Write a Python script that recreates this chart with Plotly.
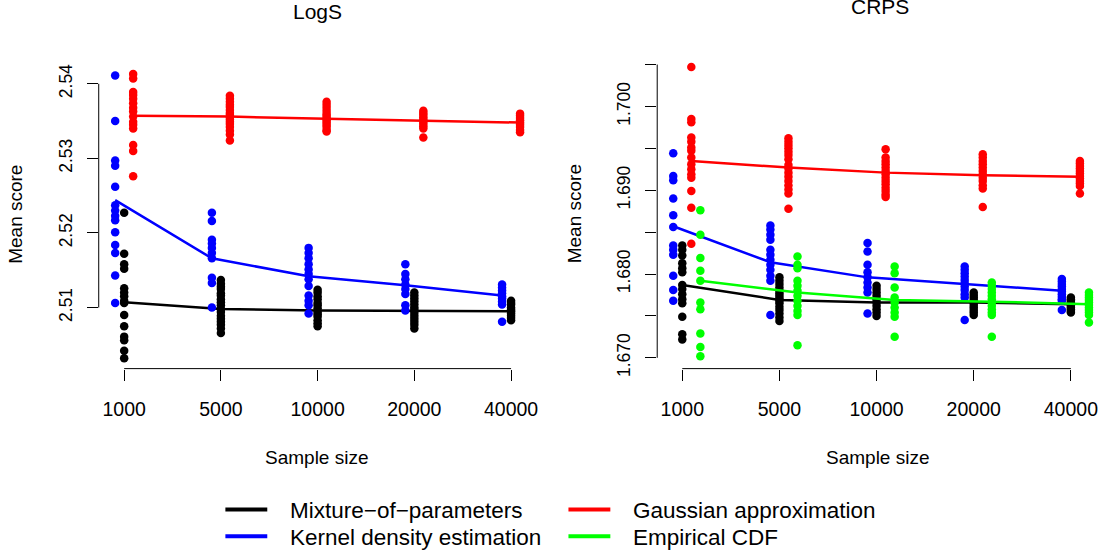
import plotly.graph_objects as go

W, H = 1105, 556
FONT = "Liberation Sans, Arial, Helvetica, sans-serif"

sample_sizes = ["1000", "5000", "10000", "20000", "40000"]

# ---- LogS: replicate mean scores per sample size ----
logs_mix = [
    [2.5227, 2.5172, 2.5158, 2.5152, 2.5126, 2.5120, 2.5115, 2.5109, 2.5106, 2.5090, 2.5075, 2.5061, 2.5056, 2.5042, 2.5032],
    [2.5137, 2.5132, 2.5128, 2.5125, 2.5119, 2.5116, 2.5111, 2.5107, 2.5103, 2.5098, 2.5094, 2.5089, 2.5085, 2.5081, 2.5077, 2.5072, 2.5066],
    [2.5124, 2.5120, 2.5115, 2.5111, 2.5106, 2.5103, 2.5099, 2.5094, 2.5091, 2.5088, 2.5083, 2.5079, 2.5075],
    [2.5120, 2.5116, 2.5112, 2.5108, 2.5104, 2.5100, 2.5097, 2.5093, 2.5089, 2.5085, 2.5081, 2.5077, 2.5072],
    [2.5109, 2.5106, 2.5104, 2.5100, 2.5097, 2.5095, 2.5092, 2.5089, 2.5086, 2.5083],
]
logs_kde = [
    [2.5411, 2.5350, 2.5297, 2.5290, 2.5262, 2.5237, 2.5230, 2.5223, 2.5217, 2.5201, 2.5184, 2.5173, 2.5143, 2.5106],
    [2.5227, 2.5216, 2.5191, 2.5186, 2.5180, 2.5173, 2.5166, 2.5140, 2.5133, 2.5100],
    [2.5180, 2.5173, 2.5166, 2.5158, 2.5151, 2.5145, 2.5138, 2.5129, 2.5116, 2.5109, 2.5103, 2.5092],
    [2.5158, 2.5145, 2.5138, 2.5131, 2.5125, 2.5118, 2.5103, 2.5096],
    [2.5131, 2.5127, 2.5123, 2.5119, 2.5115, 2.5112, 2.5108, 2.5104, 2.5081],
]
logs_gauss = [
    [2.5413, 2.5407, 2.5389, 2.5385, 2.5380, 2.5374, 2.5368, 2.5363, 2.5356, 2.5349, 2.5345, 2.5340, 2.5318, 2.5310, 2.5276],
    [2.5384, 2.5380, 2.5376, 2.5372, 2.5369, 2.5365, 2.5361, 2.5358, 2.5355, 2.5352, 2.5349, 2.5346, 2.5342, 2.5337, 2.5332, 2.5324],
    [2.5376, 2.5372, 2.5368, 2.5364, 2.5360, 2.5357, 2.5354, 2.5351, 2.5348, 2.5345, 2.5342, 2.5338, 2.5336],
    [2.5364, 2.5361, 2.5358, 2.5355, 2.5352, 2.5349, 2.5346, 2.5343, 2.5340, 2.5328],
    [2.5360, 2.5357, 2.5354, 2.5351, 2.5348, 2.5345, 2.5342, 2.5338, 2.5335],
]
logs_mix_avg = [2.5107, 2.5098, 2.5096, 2.5096, 2.5095]
logs_kde_avg = [2.5244, 2.5166, 2.5142, 2.5130, 2.5116]
logs_gauss_avg = [2.5357, 2.5356, 2.5353, 2.5350, 2.5348]

# ---- CRPS: replicate mean scores per sample size ----
crps_mix = [
    [1.6834, 1.6829, 1.6822, 1.6813, 1.6807, 1.6802, 1.6787, 1.6782, 1.6776, 1.6770, 1.6765, 1.6749, 1.6728, 1.6722],
    [1.6796, 1.6792, 1.6788, 1.6784, 1.6780, 1.6777, 1.6774, 1.6771, 1.6768, 1.6765, 1.6761, 1.6757, 1.6753, 1.6748, 1.6744],
    [1.6786, 1.6782, 1.6778, 1.6774, 1.6770, 1.6766, 1.6762, 1.6758, 1.6754, 1.6750],
    [1.6778, 1.6775, 1.6772, 1.6769, 1.6766, 1.6763, 1.6760, 1.6757, 1.6754, 1.6751],
    [1.6772, 1.6770, 1.6768, 1.6766, 1.6764, 1.6762, 1.6760, 1.6758, 1.6756, 1.6754],
]
crps_kde = [
    [1.6944, 1.6917, 1.6912, 1.6890, 1.6870, 1.6856, 1.6834, 1.6829, 1.6823, 1.6798, 1.6781, 1.6768],
    [1.6858, 1.6853, 1.6847, 1.6841, 1.6829, 1.6823, 1.6817, 1.6811, 1.6805, 1.6798, 1.6792, 1.6751],
    [1.6837, 1.6827, 1.6811, 1.6802, 1.6796, 1.6790, 1.6784, 1.6778, 1.6753],
    [1.6809, 1.6805, 1.6801, 1.6797, 1.6793, 1.6789, 1.6785, 1.6781, 1.6776, 1.6772, 1.6745],
    [1.6794, 1.6791, 1.6788, 1.6785, 1.6782, 1.6779, 1.6776, 1.6773, 1.6770, 1.6768, 1.6757],
]
crps_gauss = [
    [1.7047, 1.6985, 1.6981, 1.6963, 1.6958, 1.6951, 1.6947, 1.6939, 1.6931, 1.6925, 1.6919, 1.6915, 1.6899, 1.6879, 1.6836],
    [1.6962, 1.6958, 1.6954, 1.6950, 1.6946, 1.6942, 1.6937, 1.6930, 1.6926, 1.6921, 1.6916, 1.6911, 1.6906, 1.6901, 1.6896, 1.6878],
    [1.6949, 1.6939, 1.6935, 1.6931, 1.6927, 1.6923, 1.6919, 1.6915, 1.6911, 1.6907, 1.6903, 1.6899, 1.6895, 1.6892],
    [1.6943, 1.6939, 1.6935, 1.6931, 1.6927, 1.6923, 1.6919, 1.6915, 1.6911, 1.6906, 1.6902, 1.6880],
    [1.6935, 1.6932, 1.6929, 1.6926, 1.6923, 1.6920, 1.6917, 1.6914, 1.6911, 1.6908, 1.6905, 1.6896],
]
crps_ecdf = [
    [1.6876, 1.6847, 1.6819, 1.6804, 1.6792, 1.6766, 1.6758, 1.6729, 1.6713, 1.6702],
    [1.6821, 1.6811, 1.6807, 1.6792, 1.6786, 1.6780, 1.6774, 1.6768, 1.6762, 1.6756, 1.6751, 1.6715],
    [1.6809, 1.6801, 1.6784, 1.6772, 1.6766, 1.6760, 1.6754, 1.6749, 1.6725],
    [1.6790, 1.6786, 1.6782, 1.6778, 1.6774, 1.6770, 1.6766, 1.6762, 1.6758, 1.6754, 1.6751, 1.6725],
    [1.6778, 1.6775, 1.6772, 1.6769, 1.6766, 1.6763, 1.6760, 1.6757, 1.6754, 1.6751, 1.6742],
]
crps_mix_avg = [1.6787, 1.6769, 1.6766, 1.6766, 1.6764]
crps_kde_avg = [1.6857, 1.6814, 1.6796, 1.6788, 1.6780]
crps_gauss_avg = [1.6935, 1.6927, 1.6921, 1.6918, 1.6916]
crps_ecdf_avg = [1.6792, 1.6778, 1.6769, 1.6767, 1.6764]

legend_labels = ["Mixture\u2212of\u2212parameters", "Kernel density estimation",
                 "Gaussian approximation", "Empirical CDF"]
colors = ["#000000", "#0000FF", "#FF0000", "#00FF00"]
# horizontal dodge of each method around the sample-size position
dodge = [0.0, -0.093, 0.093, 0.186]


def px(x):
    return x / W


def py(y):
    return 1 - y / H


fig = go.Figure()


def add_panel(series, avgs, xa, ya):
    for k, (vals, avg) in enumerate(zip(series, avgs)):
        if vals is None:
            continue
        xs, ys = [], []
        for i, grp in enumerate(vals):
            xs += [i + 1 + dodge[k]] * len(grp)
            ys += grp
        fig.add_trace(go.Scatter(
            x=xs, y=ys, mode="markers", xaxis=xa, yaxis=ya,
            marker=dict(color=colors[k], size=8.5, line=dict(width=0)),
            showlegend=False, hoverinfo="skip"))
        fig.add_trace(go.Scatter(
            x=[i + 1 + dodge[k] for i in range(len(avg))], y=avg,
            mode="lines", xaxis=xa, yaxis=ya,
            line=dict(color=colors[k], width=2.5),
            showlegend=False, hoverinfo="skip"))


add_panel([logs_mix, logs_kde, logs_gauss, None],
          [logs_mix_avg, logs_kde_avg, logs_gauss_avg, None], "x", "y")
add_panel([crps_mix, crps_kde, crps_gauss, crps_ecdf],
          [crps_mix_avg, crps_kde_avg, crps_gauss_avg, crps_ecdf_avg], "x2", "y2")

top, bottom = 58, 374
ydom = [py(bottom), py(top)]

common_x = dict(tickvals=[1, 2, 3, 4, 5], ticktext=sample_sizes, ticks="outside",
                ticklen=11, tickwidth=1, tickcolor="black", showline=False,
                showgrid=False, zeroline=False,
                tickfont=dict(family=FONT, size=19.5, color="black"),
                ticklabelstandoff=12)
common_y = dict(ticks="outside", ticklen=11, tickwidth=1, tickcolor="black",
                showline=False, showgrid=False, zeroline=False, tickangle=-90,
                tickfont=dict(family=FONT, size=17.5, color="black"),
                ticklabelstandoff=8)

logs_ticks = [2.51, 2.52, 2.53, 2.54]
crps_ticks = [1.670, 1.675, 1.680, 1.685, 1.690, 1.695, 1.700, 1.705]
crps_ticktext = ["1.670", "", "1.680", "", "1.690", "", "1.700", ""]

fig.update_layout(
    width=W, height=H,
    margin=dict(l=0, r=0, t=0, b=0),
    paper_bgcolor="white", plot_bgcolor="white",
    xaxis=dict(domain=[px(99), px(537)], range=[0.737, 5.253], anchor="y", **common_x),
    yaxis=dict(domain=ydom, range=[2.50181, 2.54357], anchor="x",
               tickvals=logs_ticks, ticktext=[f"{v:.2f}" for v in logs_ticks], **common_y),
    xaxis2=dict(domain=[px(659), px(1104)], range=[0.742, 5.310], anchor="y2", **common_x),
    yaxis2=dict(domain=ydom, range=[1.66871, 1.70588], anchor="x2",
                tickvals=crps_ticks, ticktext=crps_ticktext, **common_y),
)

# R-style axis lines spanning only the tick range
shapes = [
    dict(type="line", xref="x", yref="y domain", x0=1, x1=5, y0=0, y1=0,
         line=dict(color="black", width=1)),
    dict(type="line", xref="x domain", yref="y", x0=0, x1=0, y0=logs_ticks[0], y1=logs_ticks[-1],
         line=dict(color="black", width=1)),
    dict(type="line", xref="x2", yref="y2 domain", x0=1, x1=5, y0=0, y1=0,
         line=dict(color="black", width=1)),
    dict(type="line", xref="x2 domain", yref="y2", x0=0, x1=0, y0=crps_ticks[0], y1=crps_ticks[-1],
         line=dict(color="black", width=1)),
]

annotations = []


def text(s, x, y, size, angle=0, xanchor="center"):
    annotations.append(dict(text=s, x=px(x), y=py(y), xref="paper", yref="paper",
                            showarrow=False, textangle=angle, xanchor=xanchor, yanchor="middle",
                            font=dict(family=FONT, size=size, color="black")))


text("LogS", 318, 12, 21)
text("CRPS", 882, 7, 21)
text("Sample size", 318, 464, 19)
text("Sample size", 880, 464, 19)
text("Mean score", 16, 217, 19, angle=-90)
text("Mean score", 576, 217, 19, angle=-90)

# legend (two columns, two rows)
leg_rows = [518, 545]
leg_cols = [(226, 268, 289), (570, 612, 633)]
order = [(0, 0, 0), (1, 1, 0), (2, 0, 1), (3, 1, 1)]
for k, r, c in order:
    x0, x1, tx = leg_cols[c]
    yy = leg_rows[r]
    shapes.append(dict(type="line", xref="paper", yref="paper", x0=px(x0), x1=px(x1),
                       y0=py(yy - 1), y1=py(yy - 1), line=dict(color=colors[k], width=4)))
    text(legend_labels[k], tx, yy, 22.5, xanchor="left")

fig.update_layout(shapes=shapes, annotations=annotations)
fig.write_html("out.html")
